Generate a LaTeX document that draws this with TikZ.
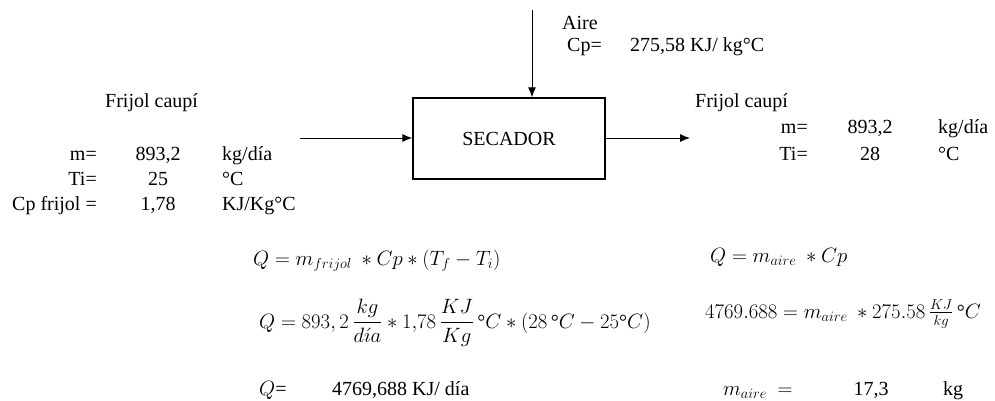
\documentclass[tikz,border=0pt]{standalone}
\usepackage{amsmath}
\usepackage{fontspec}
\setmainfont{Liberation Serif}
\usetikzlibrary{arrows.meta}
\begin{document}
\begin{tikzpicture}[x=1pt,y=-1pt,
  txt/.style={inner sep=0pt,anchor=base west,font=\fontsize{20}{24}\selectfont},
  txtr/.style={inner sep=0pt,anchor=base east,font=\fontsize{20}{24}\selectfont},
  txtc/.style={inner sep=0pt,anchor=base,font=\fontsize{20}{24}\selectfont},
  eq/.style={inner sep=0pt,anchor=base west,font=\fontsize{20}{24}\selectfont},
  flow/.style={line width=1pt,-{Latex[length=10pt,width=8pt]}},
  proc/.style={draw,line width=1.3pt,minimum width=192pt,minimum height=81pt,inner sep=0pt}]
\useasboundingbox (0,0) rectangle (995,401);
% process box
\node[proc] (sec) at (509,138.5) {};
\node[txtc] (seclbl) at (509,146) {SECADOR};
% connectors
\coordinate (top) at (532,10);
\coordinate (inL) at (300,138);
\coordinate (outR) at (690,138);
\draw[flow] (top) -- (top |- sec.north);
\draw[flow] (inL) -- (inL -| sec.west);
\draw[flow] (sec.east |- outR) -- (outR);
% Aire
\node[txt] (aire) at (562,30) {Aire};
\node[txt] (cpa) at (567,52) {Cp=};
\node[txt] (cpav) at (630,52) {275,58\ KJ/ kg°C};
% left stream
\node[txt] (fl) at (105,108) {Frijol caupí};
\node[txtr] (ml) at (97,160) {m=};
\node[txtc] (mlv) at (158,160) {893,2};
\node[txt] (mlu) at (222,160) {kg/día};
\node[txtr] (tl) at (97,185) {Ti=};
\node[txtc] (tlv) at (158,185) {25};
\node[txt] (tlu) at (222,185) {°C};
\node[txtr] (cl) at (97,210) {Cp frijol =};
\node[txtc] (clv) at (158,210) {1,78};
\node[txt] (clu) at (222,210) {KJ/Kg°C};
% right stream
\node[txt] (fr) at (695,107) {Frijol caupí};
\node[txtr] (mr) at (808,133) {m=};
\node[txtc] (mrv) at (870,133) {893,2};
\node[txt] (mru) at (938,133) {kg/día};
\node[txtr] (tr) at (808,160) {Ti=};
\node[txtc] (trv) at (870,160) {28};
\node[txt] (tru) at (938,160) {°C};
% equations left
\node[eq] (e1) at (253,265) {$Q = m_{frijol}\ \ast Cp\ast(T_f - T_i)$};
\node[eq] (e2) at (259,328) {$Q = 893,2\,\dfrac{kg}{d\acute{\imath}a}\ast 1{,}78\,\dfrac{KJ}{Kg}\,\text{°}C\ast(28\,\text{°}C - 25\text{°}C)$};
\node[eq] (e3) at (259,395) {$Q$=};
\node[txt] (e3v) at (332,395) {4769,688\ KJ/ día};
% equations right
\node[eq] (r1) at (710,262) {$Q = m_{aire}\ \ast Cp$};
\node[eq] (r2) at (705,318) {$4769.688 = m_{aire}\ \ast 275.58\,\tfrac{KJ}{kg}\,\text{°}C$};
\node[eq] (r3) at (723,395) {$m_{aire}\ =$};
\node[txtc] (r3v) at (871,395) {17,3};
\node[txt] (r3u) at (943,395) {kg};
\end{tikzpicture}
\end{document}
